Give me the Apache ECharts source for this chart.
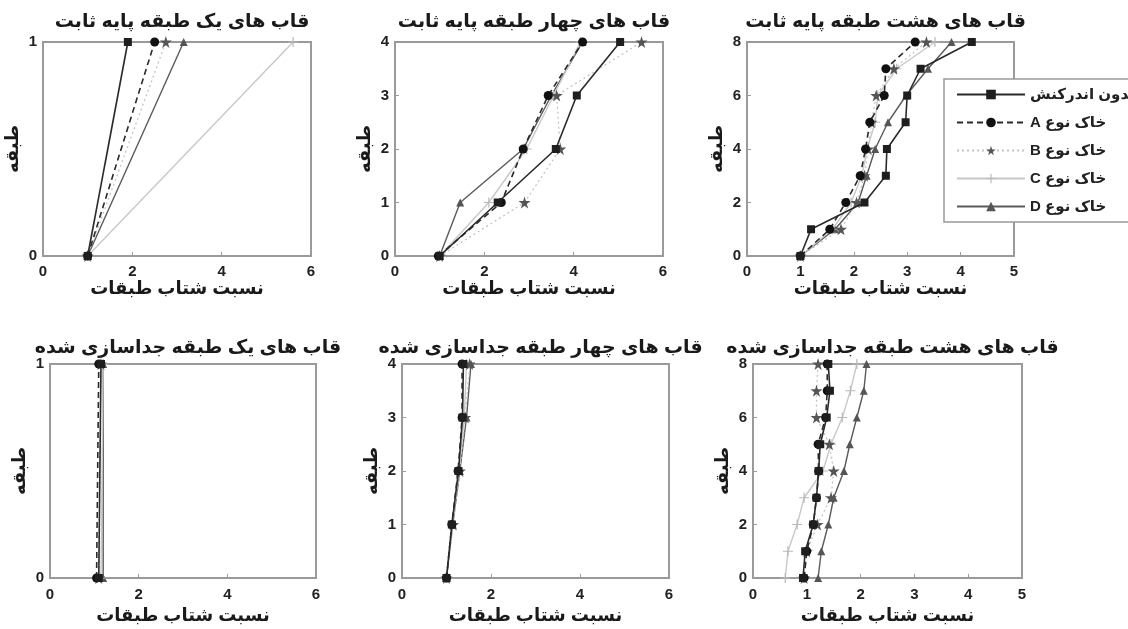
<!DOCTYPE html>
<html>
<head>
<meta charset="utf-8">
<script src="https://cdn.jsdelivr.net/npm/echarts@6/dist/echarts.min.js"></script>
<style>
html,body{margin:0;padding:0;background:#fff;}
#chart{width:1128px;height:629px;}
</style>
</head>
<body>
<div id="chart"></div>
<script>
// ---------- DATA ----------
const seriesNames = ['بدون اندرکنش', 'A خاک نوع', 'B خاک نوع', 'C خاک نوع', 'D خاک نوع'];
const panelTitles = [
  'قاب های یک طبقه پایه ثابت',
  'قاب های چهار طبقه پایه ثابت',
  'قاب های هشت طبقه پایه ثابت',
  'قاب های یک طبقه جداسازی شده',
  'قاب های چهار طبقه جداسازی شده',
  'قاب های هشت طبقه جداسازی شده'
];
const xAxisName = 'نسبت شتاب طبقات';
const yAxisName = 'طبقه';

const floors1 = [0, 1];
const floors4 = [0, 1, 2, 3, 4];
const floors8 = [0, 1, 2, 3, 4, 5, 6, 7, 8];

// fixed base, 1 story
const fix1None = [1.0, 1.9];
const fix1A = [1.0, 2.5];
const fix1B = [1.0, 2.75];
const fix1C = [1.0, 5.6];
const fix1D = [1.0, 3.15];
// fixed base, 4 story
const fix4None = [1.0, 2.3, 3.6, 4.07, 5.04];
const fix4A = [0.97, 2.38, 2.87, 3.43, 4.2];
const fix4B = [1.0, 2.9, 3.7, 3.62, 5.52];
const fix4C = [1.0, 2.1, 2.95, 3.55, 4.15];
const fix4D = [1.0, 1.46, 2.87, 3.5, 4.2];
// fixed base, 8 story
const fix8None = [1.0, 1.2, 2.2, 2.6, 2.62, 2.97, 3.0, 3.25, 4.21];
const fix8A = [1.0, 1.55, 1.85, 2.12, 2.22, 2.3, 2.57, 2.6, 3.15];
const fix8B = [1.0, 1.76, 2.05, 2.2, 2.27, 2.33, 2.42, 2.75, 3.36];
const fix8C = [1.0, 1.6, 1.95, 2.15, 2.25, 2.4, 2.45, 2.8, 3.52];
const fix8D = [1.0, 1.65, 2.08, 2.24, 2.4, 2.64, 2.98, 3.39, 3.83];
// isolated, 1 story
const iso1None = [1.1, 1.15];
const iso1A = [1.05, 1.1];
const iso1B = [1.1, 1.15];
const iso1C = [1.15, 1.2];
const iso1D = [1.2, 1.2];
// isolated, 4 story
const iso4None = [1.0, 1.12, 1.27, 1.36, 1.38];
const iso4A = [1.0, 1.12, 1.26, 1.35, 1.35];
const iso4B = [1.0, 1.15, 1.3, 1.42, 1.52];
const iso4C = [1.0, 1.13, 1.28, 1.4, 1.45];
const iso4D = [1.0, 1.14, 1.3, 1.45, 1.55];
// isolated, 8 story
const iso8None = [0.93, 0.97, 1.12, 1.18, 1.22, 1.25, 1.37, 1.43, 1.40];
const iso8A = [0.95, 1.0, 1.12, 1.18, 1.22, 1.21, 1.35, 1.38, 1.38];
const iso8B = [0.95, 1.0, 1.2, 1.45, 1.5, 1.42, 1.18, 1.18, 1.21];
const iso8C = [0.6, 0.65, 0.82, 0.95, 1.3, 1.45, 1.66, 1.81, 1.93];
const iso8D = [1.21, 1.27, 1.40, 1.50, 1.69, 1.80, 1.93, 2.06, 2.11];

const xMaxes = [6, 6, 5, 6, 6, 5];
const xIntervals = [2, 2, 1, 2, 2, 1];
const yMaxes = [1, 4, 8, 1, 4, 8];
const yIntervals = [1, 1, 2, 1, 1, 2];

const panelFloors = [floors1, floors4, floors8, floors1, floors4, floors8];
const panelData = [
  [fix1None, fix1A, fix1B, fix1C, fix1D],
  [fix4None, fix4A, fix4B, fix4C, fix4D],
  [fix8None, fix8A, fix8B, fix8C, fix8D],
  [iso1None, iso1A, iso1B, iso1C, iso1D],
  [iso4None, iso4A, iso4B, iso4C, iso4D],
  [iso8None, iso8A, iso8B, iso8C, iso8D]
];

// ---------- LAYOUT / STYLE ----------
const grids = [
  {left: 43, top: 42, width: 268, height: 214},
  {left: 395, top: 42, width: 268, height: 214},
  {left: 747, top: 42, width: 267, height: 214},
  {left: 50, top: 364, width: 266, height: 214},
  {left: 402, top: 364, width: 267, height: 214},
  {left: 753, top: 364, width: 269, height: 214}
];
const FONT = 'Arial, "Liberation Sans", "DejaVu Sans", sans-serif';
const starPath = 'path://M50,0 L61,35 L98,35 L68,57 L79,91 L50,70 L21,91 L32,57 L2,35 L39,35 Z';
const plusPath = 'path://M44,0 H56 V44 H100 V56 H56 V100 H44 V56 H0 V44 H44 Z';
const styles = [
  {line: {color: '#2a2a2a', width: 1.6, type: 'solid'}, item: '#1e1e1e', symbol: 'rect', size: 8},
  {line: {color: '#2a2a2a', width: 1.6, type: [6, 4]}, item: '#111', symbol: 'circle', size: 9},
  {line: {color: '#c4c4c4', width: 1.3, type: [2, 3]}, item: '#555', symbol: starPath, size: 12},
  {line: {color: '#c8c8c8', width: 1.4, type: 'solid'}, item: '#b8b8b8', symbol: plusPath, size: 10},
  {line: {color: '#5a5a5a', width: 1.4, type: 'solid'}, item: '#555', symbol: 'triangle', size: 8}
];

const option = {
  backgroundColor: '#fff',
  animation: false,
  title: panelTitles.map((t, i) => ({
    text: t,
    left: grids[i].left + grids[i].width / 2,
    top: i < 3 ? 7 : 333,
    textAlign: 'center',
    textStyle: {fontFamily: FONT, fontSize: 19, fontWeight: 'bold', color: '#1a1a1a'}
  })),
  legend: {
    orient: 'vertical',
    left: 944,
    top: 79,
    data: seriesNames,
    itemWidth: 68,
    itemHeight: 12,
    itemGap: 13,
    padding: [8, 12, 8, 12],
    borderColor: '#9a9a9a',
    borderWidth: 1.5,
    backgroundColor: '#fff',
    textStyle: {fontFamily: FONT, fontSize: 15, fontWeight: 'bold', color: '#222'}
  },
  grid: grids.map(g => Object.assign({show: true, borderColor: '#9a9a9a', borderWidth: 2, backgroundColor: '#fff'}, g)),
  xAxis: grids.map((g, i) => ({
    type: 'value', gridIndex: i, min: 0, max: xMaxes[i], interval: xIntervals[i],
    name: xAxisName, nameLocation: 'middle', nameGap: i < 3 ? 21 : 29,
    nameTextStyle: {fontFamily: FONT, fontSize: 18, fontWeight: 'bold', color: '#1a1a1a'},
    axisLine: {show: true, lineStyle: {color: '#9a9a9a', width: 2}},
    axisTick: {show: true, inside: true, length: 4, lineStyle: {color: '#9a9a9a'}},
    axisLabel: {fontFamily: FONT, fontSize: 15, fontWeight: 'bold', color: '#222', margin: i < 3 ? 8 : 9},
    splitLine: {show: false}
  })),
  yAxis: grids.map((g, i) => ({
    type: 'value', gridIndex: i, min: 0, max: yMaxes[i], interval: yIntervals[i],
    name: yAxisName, nameLocation: 'middle', nameGap: 21, nameRotate: 90,
    nameTextStyle: {fontFamily: FONT, fontSize: 18, fontWeight: 'bold', color: '#1a1a1a'},
    axisLine: {show: true, lineStyle: {color: '#9a9a9a', width: 2}},
    axisTick: {show: true, inside: true, length: 4, lineStyle: {color: '#9a9a9a'}},
    axisLabel: {fontFamily: FONT, fontSize: 15, fontWeight: 'bold', color: '#222', margin: 6},
    splitLine: {show: false}
  })),
  series: []
};

panelData.forEach((sets, p) => {
  sets.forEach((vals, s) => {
    const st = styles[s];
    option.series.push({
      type: 'line',
      name: seriesNames[s],
      xAxisIndex: p,
      yAxisIndex: p,
      data: vals.map((v, k) => [v, panelFloors[p][k]]),
      symbol: st.symbol,
      symbolSize: st.size,
      showAllSymbol: true,
      lineStyle: st.line,
      itemStyle: {color: st.item, borderWidth: 0},
      z: 10 - s
    });
  });
});

const chart = echarts.init(document.getElementById('chart'), null, {renderer: 'canvas'});
chart.setOption(option);
</script>
</body>
</html>
